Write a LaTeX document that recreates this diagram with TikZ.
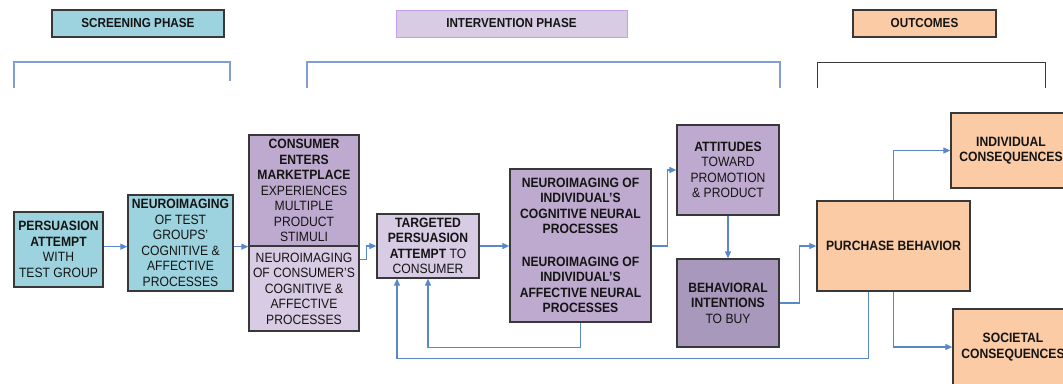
\documentclass[tikz,border=0pt]{standalone}
\usepackage{fontspec}
\setmainfont{Liberation Sans}[FakeStretch=0.9]
\usetikzlibrary{arrows.meta}

\definecolor{teal}{HTML}{9DD3DF}
\definecolor{lavlight}{HTML}{D7CCE3}
\definecolor{lavmid}{HTML}{BFAACF}
\definecolor{lavdark}{HTML}{A899BC}
\definecolor{peach}{HTML}{FACBA5}
\definecolor{flow}{HTML}{5A87C8}
\definecolor{bracketblue}{HTML}{7F9ED8}
\definecolor{boxline}{HTML}{383838}
\definecolor{txt}{HTML}{141414}
\definecolor{ipedge}{HTML}{C89EEB}

\tikzset{
  box/.style={draw=boxline, line width=1.3pt, inner sep=0pt, align=center,
    font=\fontsize{13.5}{15.5}\selectfont, text=txt},
  header/.style={box, minimum height=27pt, font=\bfseries\fontsize{13}{15}\selectfont},
  arr/.style={draw=flow, line width=1.1pt, -{Triangle[length=7pt,width=6pt]}},
  brk/.style={line width=1.2pt},
}

\begin{document}
\begin{tikzpicture}[x=1pt,y=-1pt]
\useasboundingbox (0,0) rectangle (1063,383);
\clip (0,0) rectangle (1063,383);

% phase headers
\node[header, fill=teal, minimum width=172pt] (sp) at (138,23.5) {SCREENING PHASE};
\node[header, fill=lavlight, draw=ipedge, line width=0.9pt, minimum width=231pt] (ip) at (511.5,23.5) {INTERVENTION PHASE};
\node[header, fill=peach, minimum width=143pt] (oc) at (924.5,23.5) {OUTCOMES};

% brackets under the headers
\draw[brk, draw=bracketblue] (14,88) -- (14,62) -- (230,62) -- (230,81);
\draw[brk, draw=bracketblue] (307,88) -- (307,62) -- (780,62) -- (780,88);
\draw[brk, draw=boxline, line width=1pt] (817,88) -- (817,62) -- (1045,62) -- (1045,88);

% screening phase
\node[box, fill=teal, minimum width=89pt, minimum height=75pt] (pers) at (58.5,249.5)
  {\textbf{PERSUASION}\\\textbf{ATTEMPT}\\WITH\\TEST GROUP};
\node[box, fill=teal, minimum width=105pt, minimum height=96pt] (nt) at (180.5,243)
  {\textbf{NEUROIMAGING}\\OF TEST\\GROUPS'\\COGNITIVE \&\\AFFECTIVE\\PROCESSES};

% intervention phase
\node[box, fill=lavmid, minimum width=110pt, minimum height=111pt] (cu) at (304,190.5)
  {\textbf{CONSUMER}\\\textbf{ENTERS}\\\textbf{MARKETPLACE}\\EXPERIENCES\\MULTIPLE\\PRODUCT\\STIMULI};
\node[box, fill=lavlight, minimum width=110pt, minimum height=85pt] (cl) at (304,288.5)
  {NEUROIMAGING\\OF CONSUMER'S\\COGNITIVE \&\\AFFECTIVE\\PROCESSES};
\node[box, fill=lavlight, minimum width=102pt, minimum height=64pt] (tg) at (428,246)
  {\textbf{TARGETED}\\\textbf{PERSUASION}\\\textbf{ATTEMPT} TO\\CONSUMER};
\node[box, fill=lavmid, minimum width=141pt, minimum height=153pt, font=\bfseries\fontsize{13.5}{15.5}\selectfont] (ni) at (580.5,245.5)
  {NEUROIMAGING OF\\INDIVIDUAL'S\\COGNITIVE NEURAL\\PROCESSES\\[17pt]NEUROIMAGING OF\\INDIVIDUAL'S\\AFFECTIVE NEURAL\\PROCESSES};
\node[box, fill=lavmid, minimum width=102pt, minimum height=90pt] (at) at (728,170)
  {\textbf{ATTITUDES}\\TOWARD\\PROMOTION\\\& PRODUCT};
\node[box, fill=lavdark, minimum width=102pt, minimum height=88pt] (bh) at (728,303)
  {\textbf{BEHAVIORAL}\\\textbf{INTENTIONS}\\TO BUY};

% outcomes
\node[box, fill=peach, minimum width=153pt, minimum height=90pt] (pb) at (893.5,246)
  {\textbf{PURCHASE BEHAVIOR}};
\node[box, fill=peach, minimum width=120pt, minimum height=75pt] (ic) at (1011,150.5)
  {\textbf{INDIVIDUAL}\\\textbf{CONSEQUENCES}};
\node[box, fill=peach, minimum width=120pt, minimum height=76pt] (sc) at (1013,347)
  {\textbf{SOCIETAL}\\\textbf{CONSEQUENCES}};

% flow connectors
\draw[arr] (pers.east |- cu.south) -- (nt.west |- cu.south);
\draw[arr] (nt.east |- cu.south) -- (cu.south west);
\draw[arr] ([yshift=-14pt]cl.north east) -- ++(7,0) |- (tg.west);
\draw[arr] (tg.east) -- (tg.east -| ni.west);
\draw[arr] (ni.east |- tg.east) -- ++(16,0) |- (at.west);
\draw[arr] (at.south) -- (bh.north);
\draw[arr] (bh.east) -- ++(20,0) |- (pb.west);
\draw[arr] (pb.north) |- (ic.west);
\draw[arr] (pb.south) |- (sc.west);

% feedback loops
\draw[arr] (ni.south) -- ++(0,25) -| (tg.south);
\draw[arr] ([xshift=-25pt]pb.south) -- ++(0,67) -| ([xshift=-31pt]tg.south);
\end{tikzpicture}
\end{document}
